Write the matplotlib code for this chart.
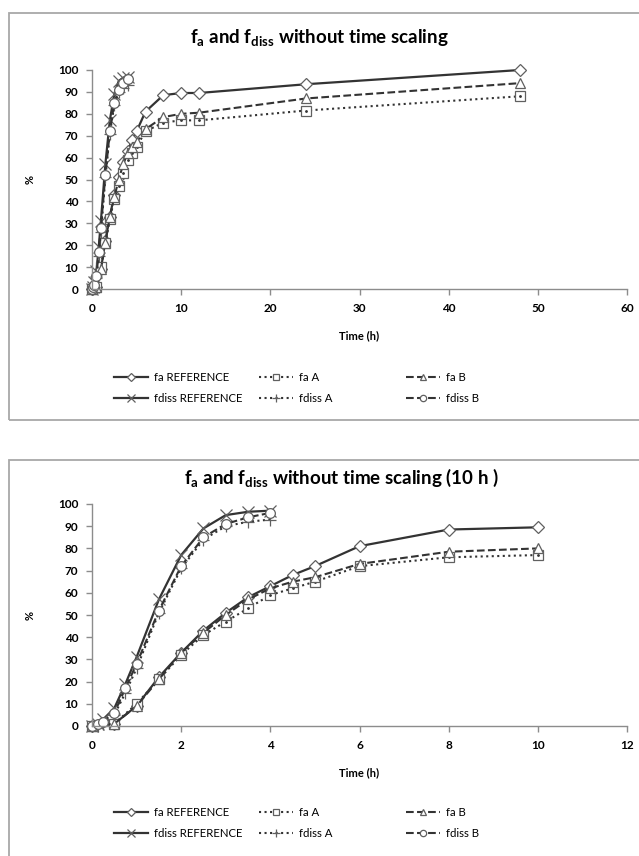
import numpy as np
import matplotlib
matplotlib.use("Agg")
import matplotlib.pyplot as plt
from matplotlib.patches import Rectangle

# -------------------------------
# DATA
# -------------------------------
t_fa = [0, 0.5, 1, 1.5, 2, 2.5, 3, 3.5, 4, 4.5, 5, 6, 8, 10, 12, 24, 48]
fa_ref = [0, 1, 9, 22, 33, 43, 51, 58, 63, 68, 72, 81, 88.5, 89.5, 89.5, 93.5, 100]
fa_a = [0, 1, 10, 21, 32, 41, 47, 53, 59, 62, 65, 72, 76, 77, 77, 81.5, 88]
fa_b = [0, 1, 9, 21, 33, 42, 50, 57, 62, 65, 67, 73, 78.5, 80, 80.5, 87, 94]

t_fdiss = [0, 0.125, 0.25, 0.5, 0.75, 1, 1.5, 2, 2.5, 3, 3.5, 4]
fdiss_ref = [0, 1, 3, 8, 19, 31, 57, 77, 89, 95, 96.5, 97]
fdiss_a = [0, 0, 1, 5, 15, 26, 51, 71, 84, 90, 92, 93]
fdiss_b = [0, 1, 2, 6, 17, 28, 52, 72, 85, 91, 94, 96]

titles = ["f$_{a}$ and f$_{diss}$ without time scaling",
          "f$_{a}$ and f$_{diss}$ without time scaling (10 h )"]
x_limits = [60, 12]
x_steps = [10, 2]
t_cut = [None, 10]

# -------------------------------
# STYLE
# -------------------------------
plt.rcParams["font.family"] = ["Lato", "DejaVu Sans"]
plt.rcParams["mathtext.fontset"] = "custom"
plt.rcParams["mathtext.rm"] = "Lato:bold"
plt.rcParams["mathtext.it"] = "Lato:bold"
plt.rcParams["mathtext.bf"] = "Lato:bold"

LC = "#333333"
MC = "#606060"

series = [
    ("fa REFERENCE", t_fa, fa_ref, "-", "D", 6),
    ("fdiss REFERENCE", t_fdiss, fdiss_ref, "-", "x", 8),
    ("fa A", t_fa, fa_a, ":", "s", 7),
    ("fdiss A", t_fdiss, fdiss_a, ":", "+", 9),
    ("fa B", t_fa, fa_b, "--", "^", 7),
    ("fdiss B", t_fdiss, fdiss_b, "--", "o", 7),
]

fig = plt.figure(figsize=(6.39, 8.56), dpi=100)
W, H = 639, 856

# panel frames
fig.patches.append(Rectangle((9 / W, 1 - 420 / H), 640 / W, 407 / H, transform=fig.transFigure,
                             fill=False, edgecolor="#a8a8a8", lw=1.3))
fig.patches.append(Rectangle((9 / W, -0.01), 640 / W, 1 - 460 / H + 0.01, transform=fig.transFigure,
                             fill=False, edgecolor="#a8a8a8", lw=1.3))

axes_px = [(92, 70, 627, 289), (92, 504, 627, 726)]
title_y = [38, 478]
legend_y = [382, 817]

for k, (x0, y0, x1, y1) in enumerate(axes_px):
    ax = fig.add_axes([x0 / W, 1 - y1 / H, (x1 - x0) / W, (y1 - y0) / H])
    handles = []
    for label, t, v, ls, mk, ms in series:
        t = np.array(t)
        v = np.array(v)
        if t_cut[k] is not None:
            keep = t <= t_cut[k]
            t, v = t[keep], v[keep]
        mfc = "none" if mk in ("x", "+") else "white"
        h, = ax.plot(t, v, linestyle=ls, color=LC, lw=1.6 if ls == "-" else 1.5,
                     marker=mk, ms=ms, mfc=mfc, mec=MC, mew=0.9, label=label, clip_on=False)
        if mk == "s":
            ax.plot(t, v, linestyle="none", marker=".", ms=2, color=LC, clip_on=False)
        handles.append(h)

    ax.set_xlim(0, x_limits[k])
    ax.set_ylim(0, 100)
    ax.set_xticks(np.arange(0, x_limits[k] + 1, x_steps[k]))
    ax.set_yticks(np.arange(0, 101, 10))
    for s in ("top", "right"):
        ax.spines[s].set_visible(False)
    for s in ("left", "bottom"):
        ax.spines[s].set_color("#8c8c8c")
        ax.spines[s].set_linewidth(1.0)
    ax.tick_params(axis="both", colors="#8c8c8c", labelcolor="black", length=4, width=1.0,
                   labelsize=8.5, pad=6)
    for lab in ax.get_xticklabels() + ax.get_yticklabels():
        lab.set_fontweight("bold")
    ax.set_xlabel("Time (h)", fontsize=8, fontweight="bold", labelpad=12)
    ax.set_ylabel("%", fontsize=8, fontweight="bold", labelpad=16)

    fig.text(0.5 + 0.035 * k, 1 - title_y[k] / H, titles[k], ha="center", va="center",
             fontsize=13.5, fontweight="bold")

    # legend: three columns placed at the reference positions
    col_x = [112, 257, 404]
    for c in range(3):
        fig.legend(handles[2 * c:2 * c + 2], [h.get_label() for h in handles[2 * c:2 * c + 2]],
                   loc="upper left", bbox_to_anchor=(col_x[c] / W, 1 - (legend_y[k] - 12) / H),
                   frameon=False, fontsize=8.2, handlelength=3.0, handletextpad=0.5,
                   numpoints=1, labelspacing=0.85, borderaxespad=0, borderpad=0.2,
                   markerscale=0.65)

fig.savefig("out.png", dpi=100)
